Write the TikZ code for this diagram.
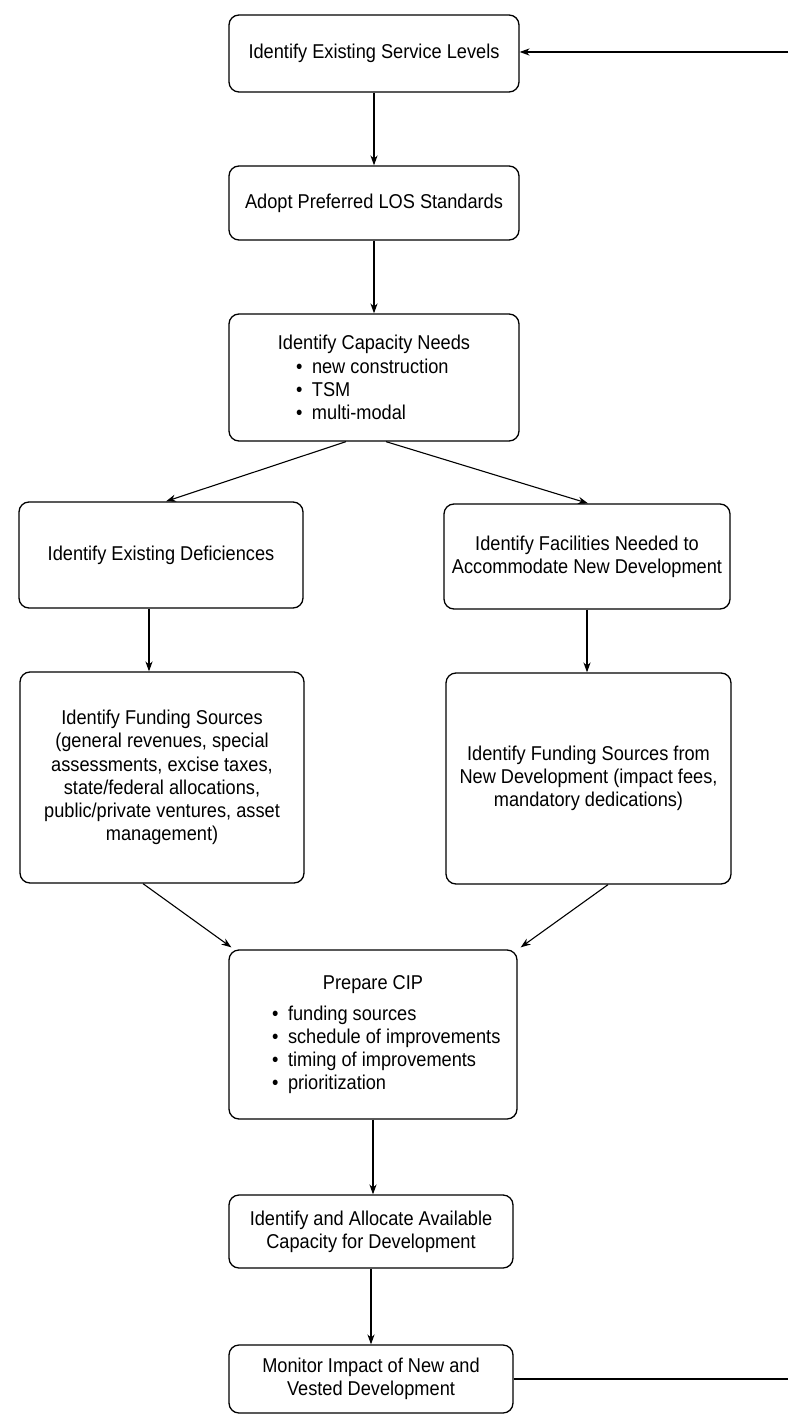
\documentclass[tikz,border=0pt]{standalone}
\usepackage{fontspec}
\setmainfont{Liberation Sans}[FakeStretch=0.91]
\usetikzlibrary{arrows.meta,calc}
\newcommand\boxfont{\fontsize{10}{11.6}\selectfont}
\newcommand\bul[2]{\par\hspace*{#1}\makebox[8pt][l]{\textbullet}#2}
\begin{document}
\begin{tikzpicture}[x=0.5pt,y=-0.5pt,
  box/.style={draw, line width=0.65pt, rounded corners=5pt, align=center, inner sep=0pt, font=\boxfont},
  arr/.style={-{Stealth[length=5pt,width=3.6pt]}, line width=0.55pt},
  plain/.style={line width=0.55pt}]
\useasboundingbox (0,0) rectangle (788,1416);

\node[box, minimum width=145pt, minimum height=38.5pt] (b1) at (374,53.5) {Identify Existing Service Levels};
\node[box, minimum width=145pt, minimum height=37pt] (b2) at (374,203) {Adopt Preferred LOS Standards};
\node[box, minimum width=145pt, minimum height=63.5pt] (b3) at (374,377.5) {\begin{minipage}{145pt}{\centering Identify Capacity Needs\par}\raggedright
\bul{33.5pt}{new construction}\bul{33.5pt}{TSM}\bul{33.5pt}{multi-modal}\par\end{minipage}};
\node[box, minimum width=142pt, minimum height=53pt] (b4) at (161,555) {Identify Existing Deficiences};
\node[box, minimum width=143pt, minimum height=52.5pt] (b5) at (587,556.5) {Identify Facilities Needed to\\Accommodate New Development};
\node[box, minimum width=142pt, minimum height=105.5pt] (b6) at (162,777.5) {Identify Funding Sources\\(general revenues, special\\assessments, excise taxes,\\state/federal allocations,\\public/private ventures, asset\\management)};
\node[box, minimum width=142.5pt, minimum height=105.5pt] (b7) at (588.5,778.5) {Identify Funding Sources from\\New Development (impact fees,\\mandatory dedications)};
\node[box, minimum width=144pt, minimum height=84.5pt] (b8) at (373,1034.5) {\begin{minipage}{144pt}{\centering Prepare CIP\par}\vspace{4pt}\raggedright
\bul{21.5pt}{funding sources}\bul{21.5pt}{schedule of improvements}\bul{21.5pt}{timing of improvements}\bul{21.5pt}{prioritization}\par\end{minipage}};
\node[box, minimum width=142pt, minimum height=36.5pt] (b9) at (371,1231.5) {Identify and Allocate Available\\Capacity for Development};
\node[box, minimum width=142pt, minimum height=34pt] (b10) at (371,1379) {Monitor Impact of New and\\Vested Development};

\coordinate (rt) at (788,52);
\coordinate (rb) at (788,1378);

\draw[arr] (b1.south) -- (b1.south |- b2.north);
\draw[arr] (b2.south) -- (b2.south |- b3.north);
\draw[arr] ([xshift=-14pt]b3.south) -- ([xshift=2.5pt]b4.north);
\draw[arr] ([xshift=6pt]b3.south) -- ([xshift=0.5pt]b5.north);
\draw[arr] ([xshift=-6pt]b4.south) -- ([xshift=-6pt]b4.south |- b6.north);
\draw[arr] (b5.south) -- (b5.south |- b7.north);
\draw[arr] ([xshift=-9.5pt]b6.south) -- ([xshift=1.5pt,yshift=1pt]b8.north west);
\draw[arr] ([xshift=9.75pt]b7.south) -- ([xshift=1.5pt,yshift=1pt]b8.north east);
\draw[arr] (b8.south) -- (b8.south |- b9.north);
\draw[arr] (b9.south) -- (b9.south |- b10.north);
\draw[plain] (b10.east) -- (b10.east -| rb);
\draw[arr] (rt) -- (rt -| b1.east);
\end{tikzpicture}
\end{document}
